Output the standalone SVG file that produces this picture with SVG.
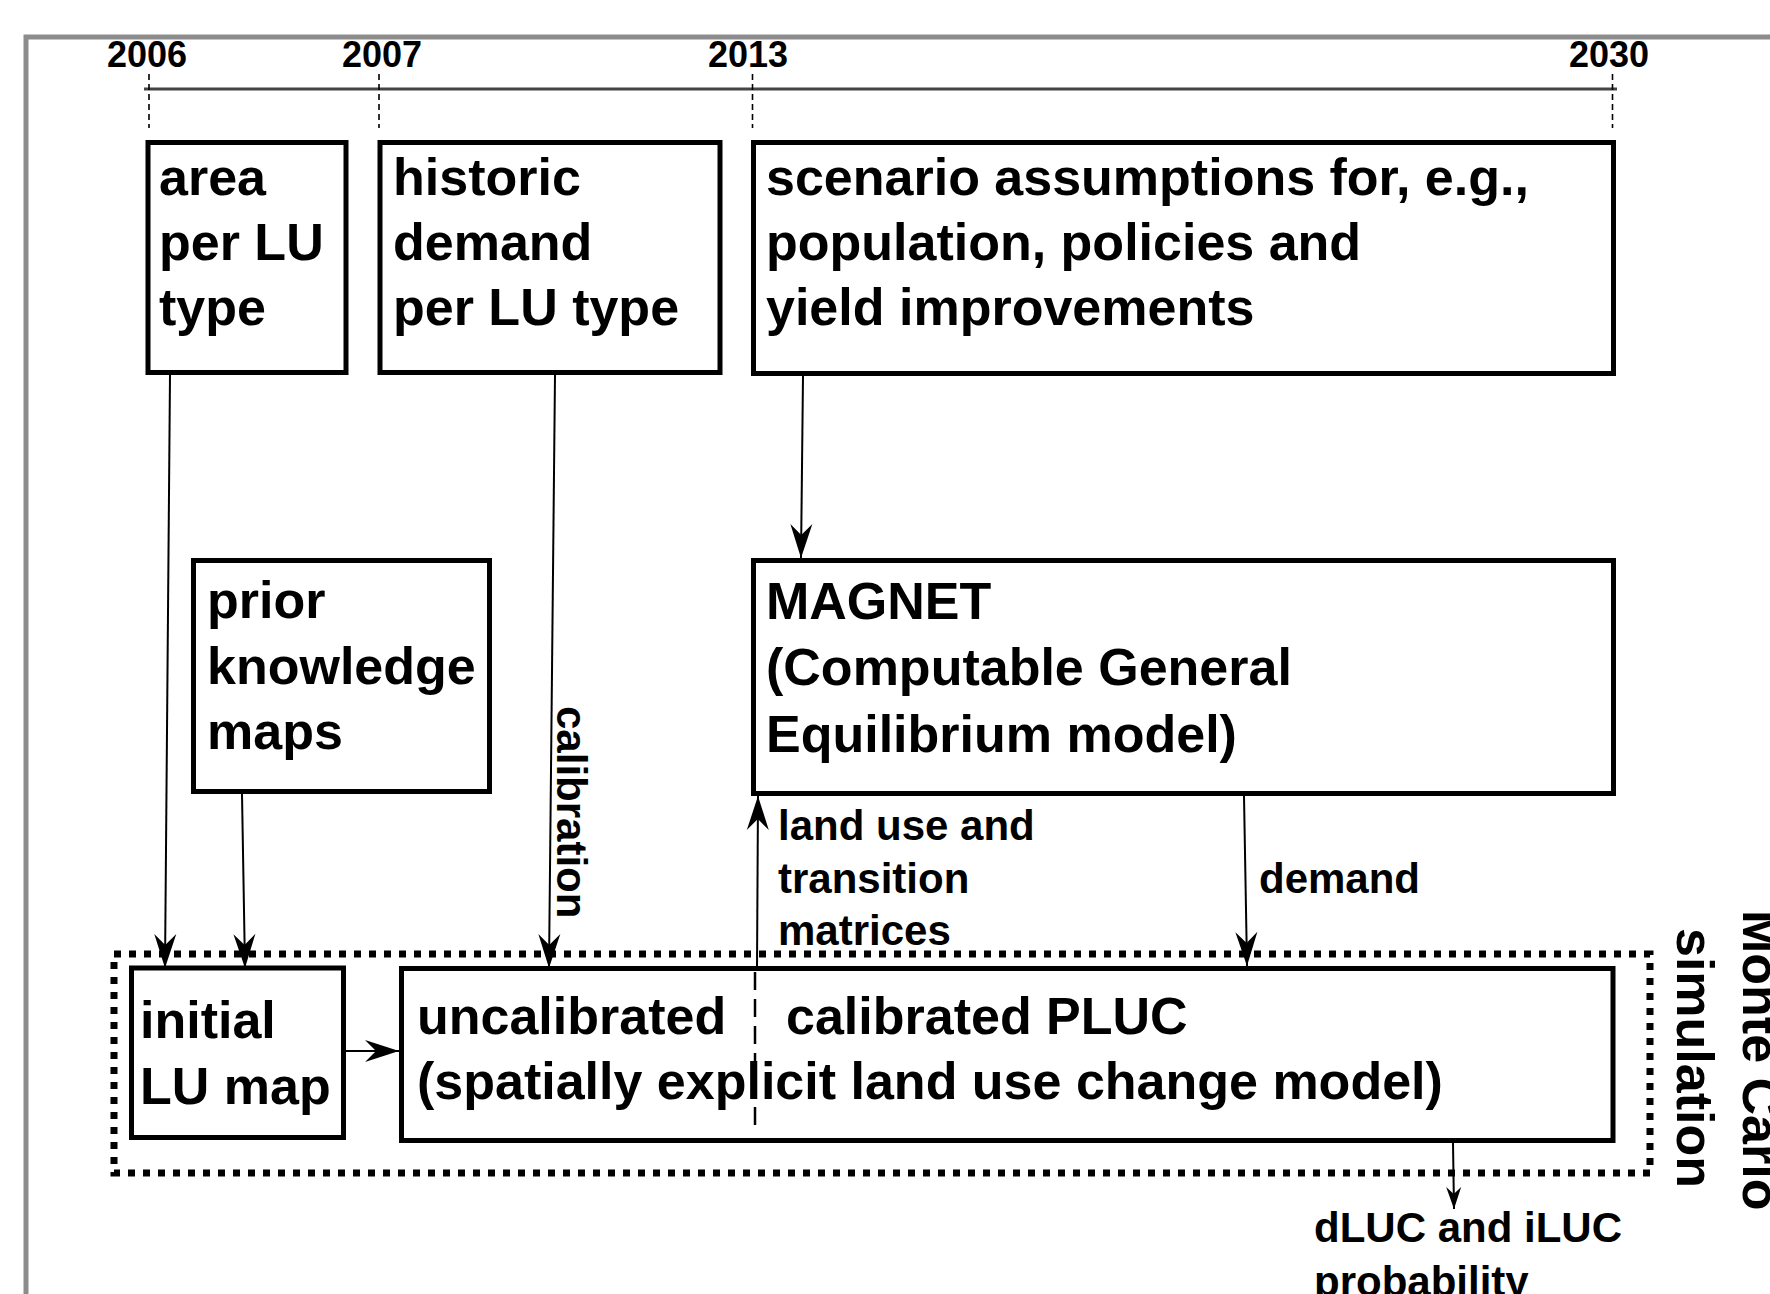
<svg xmlns="http://www.w3.org/2000/svg" width="1770" height="1294" viewBox="0 0 1770 1294">
<style>
  .box { fill: #fff; stroke: #000; stroke-width: 5; }
  .t { font-family: "Liberation Sans", Arial, sans-serif; font-weight: bold; font-size: 52px; fill: #000; }
  .lbl { font-family: "Liberation Sans", Arial, sans-serif; font-weight: bold; font-size: 42px; fill: #000; }
  .yr { font-family: "Liberation Sans", Arial, sans-serif; font-weight: bold; font-size: 36px; fill: #000; }
  .tick { stroke: #000; stroke-width: 1.6; stroke-dasharray: 6 4; fill: none; }
  .conn { stroke: #000; stroke-width: 2; fill: none; }
</style>
<defs>
  <marker id="ah" markerUnits="userSpaceOnUse" viewBox="-36 -12 38 24" refX="0" refY="0" markerWidth="38" markerHeight="24" orient="auto">
    <path d="M0,0 L-34,-11 L-23,0 L-34,11 Z" fill="#000"/>
  </marker>
  <marker id="ahs" markerUnits="userSpaceOnUse" viewBox="-24 -9 26 18" refX="0" refY="0" markerWidth="26" markerHeight="18" orient="auto">
    <path d="M0,0 L-22,-7.5 L-15,0 L-22,7.5 Z" fill="#000"/>
  </marker>
</defs>
<rect width="1770" height="1294" fill="#fff"/>
<!-- outer frame -->
<rect x="26" y="37" width="1900" height="1400" fill="none" stroke="#8c8c8c" stroke-width="5"/>

<!-- timeline -->
<g id="timeline">
  <line x1="144" y1="89" x2="1617" y2="89" stroke="#444" stroke-width="3"/>
  <line class="tick" x1="149" y1="74" x2="149" y2="128"/>
  <line class="tick" x1="379" y1="74" x2="379" y2="128"/>
  <line class="tick" x1="752.5" y1="74" x2="752.5" y2="128"/>
  <line class="tick" x1="1612.5" y1="74" x2="1612.5" y2="128"/>
  <text class="yr" x="147" y="67" text-anchor="middle">2006</text>
  <text class="yr" x="382" y="67" text-anchor="middle">2007</text>
  <text class="yr" x="748" y="67" text-anchor="middle">2013</text>
  <text class="yr" x="1609" y="67" text-anchor="middle">2030</text>
</g>

<!-- Monte Carlo dotted boundary -->
<g id="montecarlo">
  <rect x="114" y="954" width="1536" height="219" fill="none" stroke="#000" stroke-width="7" stroke-dasharray="7 8"/>
  <text class="t" transform="translate(1677,928) rotate(90)">simulation</text>
  <text class="t" transform="translate(1743,910) rotate(90)">Monte Carlo</text>
</g>

<g id="area">
  <rect class="box" x="148" y="142.5" width="198" height="230"/>
  <text class="t" x="159" y="195">area</text>
  <text class="t" x="159" y="260">per LU</text>
  <text class="t" x="159" y="325">type</text>
</g>

<g id="historic">
  <rect class="box" x="380" y="142.5" width="340" height="230"/>
  <text class="t" x="393" y="195">historic</text>
  <text class="t" x="393" y="260">demand</text>
  <text class="t" x="393" y="325">per LU type</text>
</g>

<g id="scenario">
  <rect class="box" x="753.5" y="142.5" width="860" height="231"/>
  <text class="t" x="766" y="195">scenario assumptions for, e.g.,</text>
  <text class="t" x="766" y="260">population, policies and</text>
  <text class="t" x="766" y="325">yield improvements</text>
</g>

<g id="prior">
  <rect class="box" x="193.5" y="560.5" width="296" height="231"/>
  <text class="t" x="207" y="618">prior</text>
  <text class="t" x="207" y="684">knowledge</text>
  <text class="t" x="207" y="749">maps</text>
</g>

<g id="magnet">
  <rect class="box" x="753.5" y="560.5" width="860" height="233"/>
  <text class="t" x="766" y="619">MAGNET</text>
  <text class="t" x="766" y="685">(Computable General</text>
  <text class="t" x="766" y="752">Equilibrium model)</text>
</g>

<g id="initial">
  <rect class="box" x="131.5" y="968" width="212" height="169.5"/>
  <text class="t" x="140" y="1038">initial</text>
  <text class="t" x="140" y="1104">LU map</text>
</g>

<g id="pluc">
  <rect class="box" x="401.5" y="968.5" width="1211.5" height="172"/>
  <line x1="755" y1="972" x2="755" y2="1132" stroke="#000" stroke-width="2.5" stroke-dasharray="18 9"/>
  <text class="t" x="417" y="1034">uncalibrated</text>
  <text class="t" x="786" y="1034">calibrated PLUC</text>
  <text class="t" x="417" y="1099">(spatially explicit land use change model)</text>
</g>

<g id="connectors">
  <line class="conn" x1="170" y1="375" x2="165" y2="968" marker-end="url(#ah)"/>
  <line class="conn" x1="242" y1="794" x2="245" y2="968" marker-end="url(#ah)"/>
  <line class="conn" x1="555" y1="375" x2="549" y2="968" marker-end="url(#ah)"/>
  <line class="conn" x1="803" y1="376" x2="801" y2="558" marker-end="url(#ah)"/>
  <line class="conn" x1="757" y1="968" x2="758" y2="796" marker-end="url(#ah)"/>
  <line class="conn" x1="1244" y1="796" x2="1247" y2="966" marker-end="url(#ah)"/>
  <line class="conn" x1="346" y1="1051" x2="399" y2="1051" marker-end="url(#ah)"/>
  <line class="conn" x1="1453" y1="1143" x2="1454" y2="1209" marker-end="url(#ahs)"/>
  <text class="lbl" transform="translate(557,706) rotate(90)">calibration</text>
  <text class="lbl" x="778" y="840">land use and</text>
  <text class="lbl" x="778" y="893">transition</text>
  <text class="lbl" x="778" y="945">matrices</text>
  <text class="lbl" x="1259" y="893">demand</text>
  <text class="lbl" x="1314" y="1242">dLUC and iLUC</text>
  <text class="lbl" x="1314" y="1296">probability</text>
</g>
</svg>
